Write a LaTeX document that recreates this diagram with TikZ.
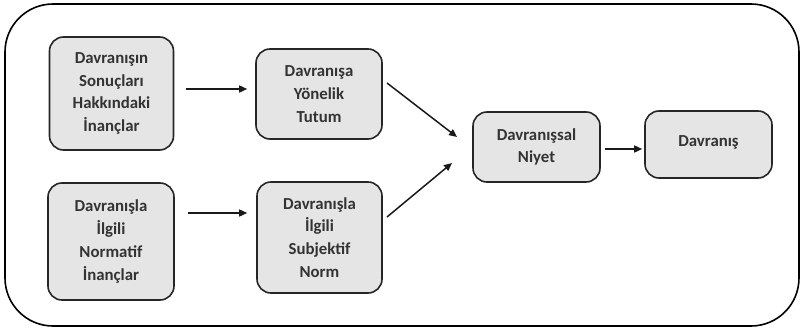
\documentclass[tikz,border=0pt]{standalone}
\usepackage{fontspec}
\setmainfont{Carlito}
\usetikzlibrary{arrows.meta}
\begin{document}
\begin{tikzpicture}[x=1pt,y=-1pt,
  box/.style={draw=black!85, line width=1.6pt, fill=black!10, rounded corners=14pt,
    align=center, font=\bfseries\fontsize{16.8}{22.7}\selectfont, text=black!80, inner sep=0pt},
  arr/.style={-{Triangle[length=8pt,width=7pt]}, line width=1.5pt, draw=black!90}]
\useasboundingbox (0,0) rectangle (801,331);
\draw[line width=1.6pt, rounded corners=48pt] (5,4) rectangle (799,326);
\node[box, minimum width=124pt, minimum height=113pt] (b1) at (111.5,93.5) {Davranışın\\Sonuçları\\Hakkındaki\\İnançlar};
\node[box, minimum width=126pt, minimum height=90pt] (b2) at (319,94) {Davranışa\\Yönelik\\Tutum};
\node[box, minimum width=126pt, minimum height=117pt] (b3) at (111,241.5) {Davranışla\\İlgili\\Normatif\\İnançlar};
\node[box, minimum width=125pt, minimum height=111pt] (b4) at (319.5,237.5) {Davranışla\\İlgili\\Subjektif\\Norm};
\node[box, minimum width=127pt, minimum height=70pt] (b5) at (536.5,147) {Davranışsal\\Niyet};
\node[box, minimum width=127pt, minimum height=67pt] (b6) at (708.5,144.5) {\raisebox{6pt}{Davranış}};
\coordinate (t1) at (457,137);
\coordinate (t2) at (452,163);
\draw[arr] ([xshift=12pt]b1.east |- 0,89) -- ([xshift=-8pt]b2.west |- 0,89);
\draw[arr] ([xshift=13pt]b3.east |- 0,213) -- ([xshift=-9pt]b4.west |- 0,213);
\draw[arr] (387,83) -- (t1);
\draw[arr] (387,217) -- (t2);
\draw[arr] ([xshift=4pt]b5.east |- 0,149) -- ([xshift=-2pt]b6.west |- 0,149);
\end{tikzpicture}
\end{document}
